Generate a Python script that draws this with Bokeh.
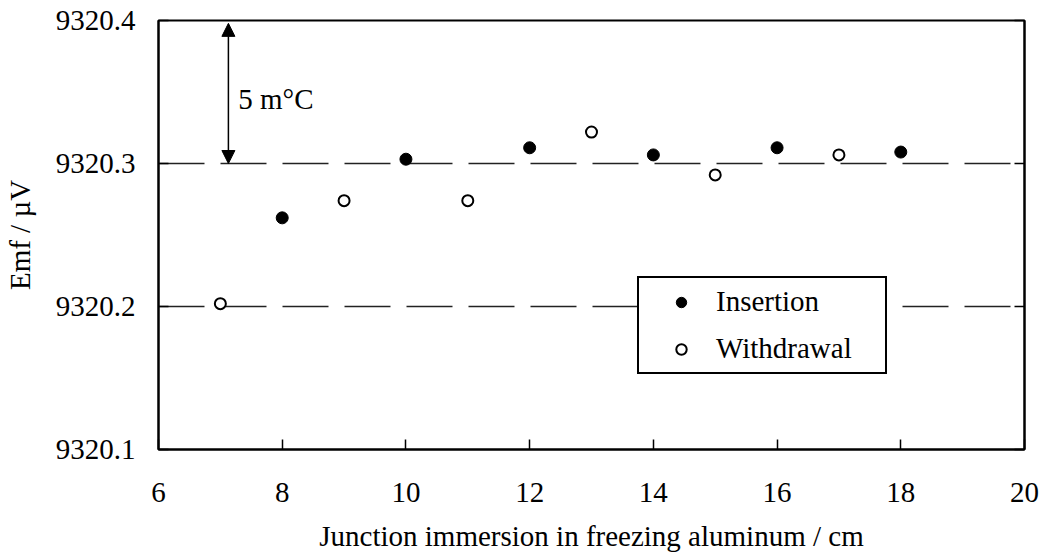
from bokeh.plotting import figure
from bokeh.models import (LinearAxis, FixedTicker, PrintfTickFormatter, Range1d,
                          Legend, LegendItem, Arrow, NormalHead, Label,
                          CustomJSTickFormatter)
from bokeh.embed import file_html
from bokeh.resources import INLINE

# ---- data ----
insertion_x = [8, 10, 12, 14, 16, 18]
insertion_y = [9320.262, 9320.303, 9320.311, 9320.306, 9320.311, 9320.308]
withdrawal_x = [7, 9, 11, 13, 15, 17]
withdrawal_y = [9320.202, 9320.274, 9320.274, 9320.322, 9320.292, 9320.306]
x_ticks = [6, 8, 10, 12, 14, 16, 18, 20]
y_ticks = [9320.1, 9320.2, 9320.3, 9320.4]
series_names = ["Insertion", "Withdrawal"]
x_title = "Junction immersion in freezing aluminum / cm"
y_title = "Emf / \u00b5V"
note_text = "5 m\u00b0C"
arrow_x = 7.13
arrow_y = [9320.398, 9320.300]
note_pos = (7.29, 9320.345)

FONT = "Liberation Serif"
FS = "29px"

p = figure(width=1040, height=556, output_backend="svg", toolbar_location=None,
           x_range=Range1d(6, 20), y_range=Range1d(9320.1, 9320.4),
           min_border_left=158, min_border_right=16, min_border_top=20,
           min_border_bottom=107, x_axis_location=None, y_axis_location=None)
p.background_fill_color = "white"
p.border_fill_color = "white"
p.outline_line_color = "black"
p.outline_line_width = 2

xaxis = LinearAxis(ticker=FixedTicker(ticks=x_ticks), axis_label=x_title)
yaxis = LinearAxis(ticker=FixedTicker(ticks=y_ticks), axis_label=y_title,
                   formatter=PrintfTickFormatter(format="%.1f"))
raxis = LinearAxis(ticker=FixedTicker(ticks=y_ticks),
                   formatter=CustomJSTickFormatter(code="return ''"))
for ax in (xaxis, yaxis, raxis):
    ax.axis_line_color = "black"
    ax.axis_line_width = 2
    ax.major_tick_in = 10
    ax.major_tick_out = 0
    ax.major_tick_line_width = 1.5
    ax.minor_tick_line_color = None
    ax.major_label_text_font = FONT
    ax.major_label_text_font_size = FS
    ax.major_label_text_color = "black"
    ax.axis_label_text_font = FONT
    ax.axis_label_text_font_size = FS
    ax.axis_label_text_font_style = "normal"
    ax.axis_label_text_color = "black"
xaxis.major_label_standoff = 33
xaxis.axis_label_standoff = 15
yaxis.major_label_standoff = 23
yaxis.axis_label_standoff = 17
raxis.major_label_standoff = 0
raxis.major_label_text_font_size = "1px"
p.add_layout(xaxis, "below")
p.add_layout(yaxis, "left")
p.add_layout(raxis, "right")

p.xgrid.grid_line_color = None
p.ygrid.ticker = FixedTicker(ticks=y_ticks)
p.ygrid.grid_line_color = "#222222"
p.ygrid.grid_line_width = 1.3
p.ygrid.grid_line_dash = "46 16"

r_ins = p.scatter(insertion_x, insertion_y, marker="circle", size=12,
                  fill_color="black", line_color="black", line_width=1)
r_wd = p.scatter(withdrawal_x, withdrawal_y, marker="circle", size=11,
                 fill_color="white", line_color="black", line_width=2)

arrow = Arrow(x_start=arrow_x, y_start=arrow_y[1], x_end=arrow_x, y_end=arrow_y[0],
              line_color="black", line_width=1.5,
              start=NormalHead(size=13, fill_color="black", line_color="black", line_width=1),
              end=NormalHead(size=13, fill_color="black", line_color="black", line_width=1))
p.add_layout(arrow)
p.add_layout(Label(x=note_pos[0], y=note_pos[1], text=note_text, text_font=FONT,
                   text_font_size=FS, text_baseline="middle", text_color="black"))

legend = Legend(items=[LegendItem(label=series_names[0], renderers=[r_ins]),
                       LegendItem(label=series_names[1], renderers=[r_wd])],
                location=(479, 75), margin=0, padding=7, spacing=14,
                glyph_width=70, glyph_height=26, label_height=30, label_width=162,
                label_standoff=0, label_text_font=FONT, label_text_font_size=FS,
                label_text_color="black", border_line_color="black",
                border_line_alpha=1.0, border_line_width=2,
                background_fill_color="white", background_fill_alpha=1.0)
p.add_layout(legend, "center")

open("out.html", "w").write(file_html(p, INLINE))
